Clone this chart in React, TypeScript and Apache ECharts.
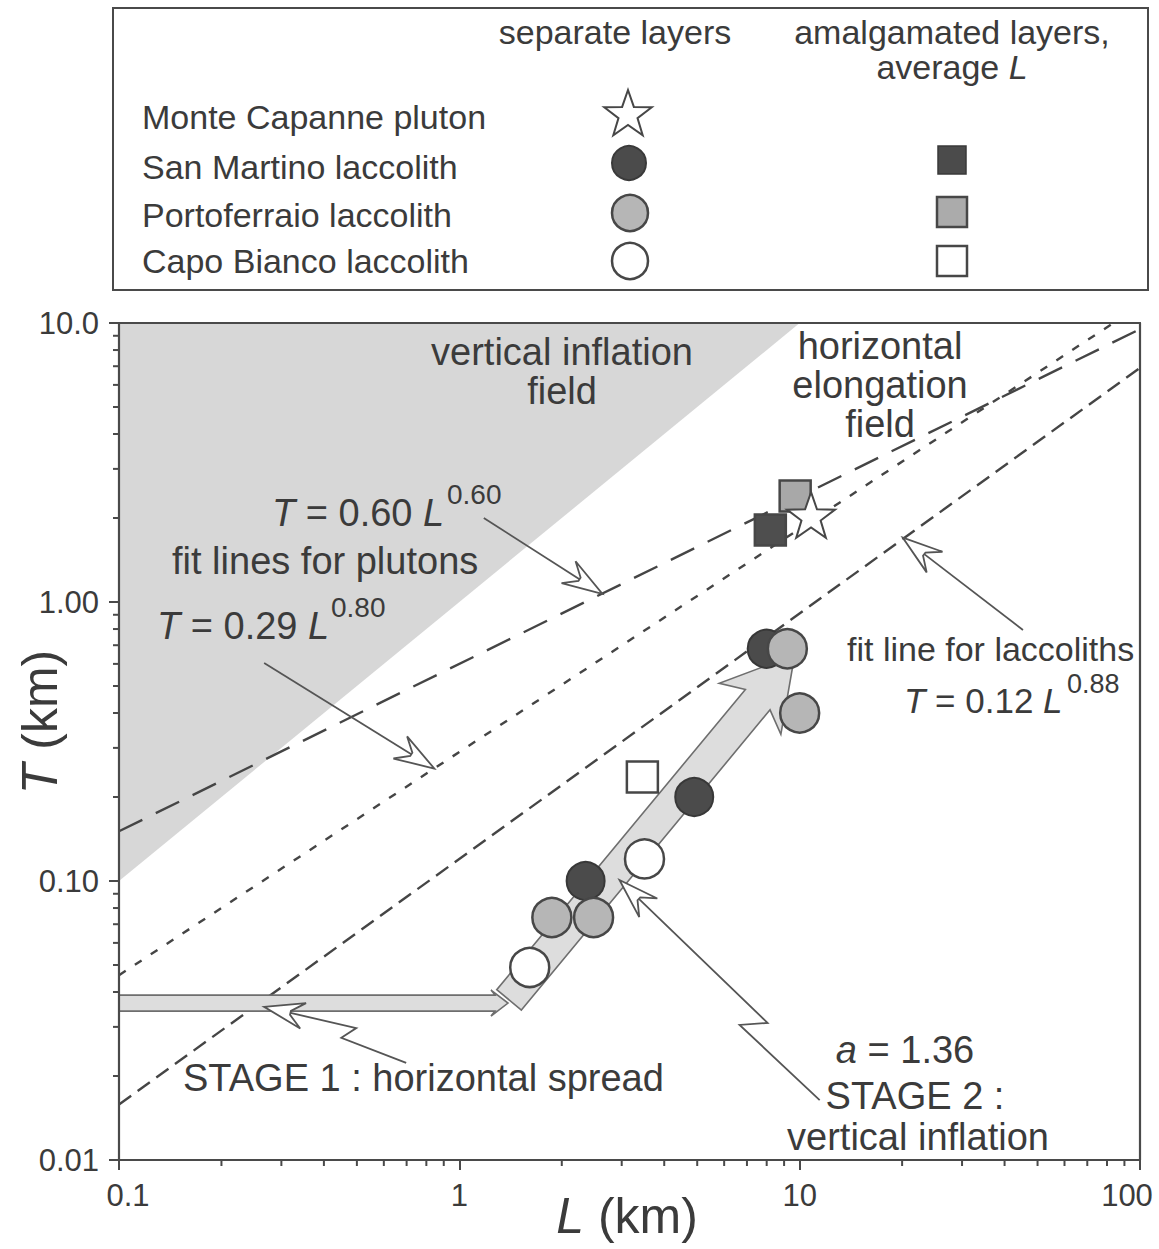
import React, { useEffect, useRef } from "react";
import * as echarts from "echarts";

// ---- measurements: L = layer length (km), T = thickness (km) ----
const sanMartinoL = [2.35, 4.9, 8.0];
const sanMartinoT = [0.1, 0.2, 0.68];
const portoferraioL = [1.87, 2.48, 9.2, 10.0];
const portoferraioT = [0.074, 0.074, 0.68, 0.4];
const capoBiancoL = [1.61, 3.5];
const capoBiancoT = [0.049, 0.12];
const monteCapanneL = [10.8];
const monteCapanneT = [2.05];

// amalgamated layers (average L): San Martino, Portoferraio, Capo Bianco
const amalgamatedL = [8.2, 9.7, 3.45];
const amalgamatedT = [1.81, 2.4, 0.236];

// fit lines T = c * L^e : plutons (two) and laccoliths
const fitCoef = [0.6, 0.29, 0.12];
const fitExp = [0.6, 0.8, 0.88];
const fitRangeL = [0.1, 100];

// vertical inflation field, bounded by T = L
const inflationField = [
  [0.1, 0.1],
  [0.1, 10],
  [10, 10],
];

// growth paths (broad arrows)
const stage1Path = [
  [0.1, 0.0365],
  [1.39, 0.0365],
];
const stage2Path = [
  [1.4, 0.0375],
  [9.67, 0.646],
];

// thin pointer arrows, last point is the tip
const pointerPluton060 = [
  [1.18, 2.0],
  [2.63, 1.07],
];
const pointerPluton080 = [
  [0.267, 0.604],
  [0.844, 0.253],
];
const pointerLaccolith = [
  [45.3, 0.794],
  [20.1, 1.7],
];
const pointerStage1 = [
  [0.698, 0.0223],
  [0.45, 0.0274],
  [0.498, 0.0297],
  [0.267, 0.0354],
];
const pointerStage2 = [
  [11.45, 0.0164],
  [6.66, 0.0305],
  [8.05, 0.031],
  [2.955, 0.1008],
];

// axes
const xMajor = [0.1, 1, 10, 100];
const xTickLabels = ["0.1", "1", "10", "100"];
const yMajor = [0.01, 0.1, 1, 10];
const yTickLabels = ["0.01", "0.10", "1.00", "10.0"];
const xMinor = [0.2, 0.3, 0.4, 0.5, 0.6, 0.7, 0.8, 0.9, 2, 3, 4, 5, 6, 7, 8, 9, 20, 30, 40, 50, 60, 70, 80, 90];
const yMinor = [0.02, 0.03, 0.04, 0.05, 0.06, 0.07, 0.08, 0.09, 0.2, 0.3, 0.4, 0.5, 0.6, 0.7, 0.8, 0.9, 2, 3, 4, 5, 6, 7, 8, 9];

const legendNames = [
  "Monte Capanne pluton",
  "San Martino laccolith",
  "Portoferraio laccolith",
  "Capo Bianco laccolith",
];

const FONT = "Arial, Liberation Sans, Helvetica, sans-serif";
const INK = "#3b3b3b";
const DARK = "#4b4b4b";
const GREY = "#b6b6b6";
const EDGE = "#474747";

function starPoints(cx: number, cy: number, R: number, r: number) {
  const pts: number[][] = [];
  for (let k = 0; k < 10; k++) {
    const a = -Math.PI / 2 + (k * Math.PI) / 5;
    const rad = k % 2 === 0 ? R : r;
    pts.push([cx + rad * Math.cos(a), cy + rad * Math.sin(a)]);
  }
  return pts;
}

const starSymbol =
  "path://" +
  starPoints(0, 0, 50, 20)
    .map((p, i) => (i ? "L" : "M") + p[0].toFixed(2) + " " + p[1].toFixed(2))
    .join(" ") +
  " Z";

function labelIndex(v: number, majors: number[]) {
  return majors.findIndex((m) => Math.abs(m - v) / m < 1e-6);
}

// open, notched arrow head drawn at tip, pointing away from `from`
function openHead(tip: number[], from: number[], len: number, half: number, notch: number, notchHalf: number) {
  const dx = tip[0] - from[0];
  const dy = tip[1] - from[1];
  const d = Math.hypot(dx, dy) || 1;
  const ux = dx / d, uy = dy / d;
  const nx = -uy, ny = ux;
  const at = (a: number, s: number) => [tip[0] - ux * a + nx * s, tip[1] - uy * a + ny * s];
  return {
    head: [tip, at(len, half), at(notch, notchHalf), at(notch, -notchHalf), at(len, -half)],
    base: at(notch, 0),
  };
}

// broad arrow outline between two pixel points
function bandArrow(a: number[], b: number[], w: number, headLen: number, headHalf: number, barbBack: number) {
  const dx = b[0] - a[0];
  const dy = b[1] - a[1];
  const d = Math.hypot(dx, dy) || 1;
  const ux = dx / d, uy = dy / d;
  const nx = -uy, ny = ux;
  const P = (base: number[], along: number, side: number) => [
    base[0] + ux * along + nx * side,
    base[1] + uy * along + ny * side,
  ];
  return [
    P(a, 0, w),
    P(b, -headLen, w),
    P(b, -barbBack, headHalf),
    b,
    P(b, -barbBack, -headHalf),
    P(b, -headLen, -w),
    P(a, 0, -w),
  ];
}

const pairs = (xs: number[], ys: number[]) => xs.map((x, i) => [x, ys[i]]);

function text(t: string, x: number, y: number, opt: any = {}) {
  return {
    type: "text",
    x,
    y,
    z: 100,
    rotation: opt.rotation || 0,
    style: {
      text: t,
      fontSize: opt.size || 38,
      fontFamily: FONT,
      fontStyle: opt.italic ? "italic" : "normal",
      fill: INK,
      align: opt.align || "center",
      verticalAlign: "middle",
      rich: opt.rich,
    },
  };
}

function richFor(size: number) {
  return {
    i: { fontSize: size, fontFamily: FONT, fontStyle: "italic", fill: INK },
    n: { fontSize: size, fontFamily: FONT, fill: INK },
  };
}

const tickRich = {
  first: { fontSize: 31, fontFamily: FONT, color: INK, padding: [0, 0, 0, 18] },
  last: { fontSize: 31, fontFamily: FONT, color: INK, padding: [0, 26, 0, 0] },
};

export default function App() {
  const ref = useRef<HTMLDivElement>(null);

  useEffect(() => {
    document.body.style.margin = "0";
    const chart = echarts.init(ref.current as HTMLDivElement, null, { renderer: "svg" });

    const fitLines = fitCoef.map((c, k) =>
      fitRangeL.map((L) => [L, c * Math.pow(L, fitExp[k])])
    );
    const dashes = [
      [26, 15],
      [8, 11],
      [15, 8],
    ];

    const pointerPaths = [pointerPluton060, pointerPluton080, pointerLaccolith, pointerStage1, pointerStage2];
    const bandPaths = [stage1Path, stage2Path];
    const bandDims = [
      [8, 13, 13, 17],
      [16, 58, 40, 70],
    ];

    const axisLineStyle = { color: "#4a4a4a", width: 2.2 };
    const LG = 34;

    const legendRows = [117, 167, 215, 261];
    const legendGraphics: any[] = [
      {
        type: "rect",
        z: 100,
        shape: { x: 113, y: 8, width: 1035, height: 282 },
        style: { fill: "none", stroke: "#4a4a4a", lineWidth: 2 },
      },
      text("separate layers", 615, 32, { size: LG }),
      text("amalgamated layers,", 952, 32, { size: LG }),
      text("{n|average }{i|L}", 952, 67, { size: LG, rich: richFor(LG) }),
      ...legendNames.map((nm, i) => text(nm, 142, legendRows[i], { size: LG, align: "left" })),
      {
        type: "polygon",
        z: 100,
        shape: { points: starPoints(628, 115, 25, 10) },
        style: { fill: "#fff", stroke: EDGE, lineWidth: 2 },
      },
      { type: "circle", z: 100, shape: { cx: 629, cy: 163, r: 17 }, style: { fill: DARK, stroke: "#3a3a3a", lineWidth: 2 } },
      { type: "circle", z: 100, shape: { cx: 630, cy: 213, r: 18 }, style: { fill: GREY, stroke: EDGE, lineWidth: 2.5 } },
      { type: "circle", z: 100, shape: { cx: 630, cy: 261, r: 18 }, style: { fill: "#fff", stroke: EDGE, lineWidth: 2.5 } },
      { type: "rect", z: 100, shape: { x: 938, y: 146, width: 28, height: 28 }, style: { fill: DARK, stroke: "#3a3a3a", lineWidth: 1.5 } },
      { type: "rect", z: 100, shape: { x: 937, y: 197, width: 30, height: 30 }, style: { fill: "#ababab", stroke: EDGE, lineWidth: 2.5 } },
      { type: "rect", z: 100, shape: { x: 937, y: 246, width: 30, height: 30 }, style: { fill: "#fff", stroke: EDGE, lineWidth: 2.5 } },
    ];

    const plotTexts: any[] = [
      text("vertical inflation", 562, 352),
      text("field", 562, 391),
      text("horizontal", 880, 346),
      text("elongation", 880, 385),
      text("field", 880, 424),
      text("{i|T} = 0.60 {i|L}", 272, 513, { align: "left", size: 38, rich: richFor(38) }),
      text("0.60", 447, 494, { align: "left", size: 28 }),
      text("fit lines for plutons", 172, 561, { align: "left" }),
      text("{i|T} = 0.29 {i|L}", 157, 626, { align: "left", size: 38, rich: richFor(38) }),
      text("0.80", 331, 607, { align: "left", size: 28 }),
      text("fit line for laccoliths", 847, 649, { align: "left", size: 34 }),
      text("{i|T} = 0.12 {i|L}", 904, 700, { align: "left", size: 35, rich: richFor(35) }),
      text("0.88", 1067, 684, { align: "left", size: 27 }),
      text("STAGE 1 : horizontal spread", 183, 1078, { align: "left" }),
      text("{i|a} = 1.36", 905, 1050, { size: 38, rich: richFor(38) }),
      text("STAGE 2 :", 915, 1096),
      text("vertical inflation", 918, 1137),
      text("{i|T} (km)", 40, 722, { size: 50, rotation: Math.PI / 2, rich: richFor(50) }),
      text("{i|L} (km)", 627, 1216, { size: 50, rich: richFor(50) }),
    ];

    const option: any = {
      animation: false,
      backgroundColor: "#ffffff",
      grid: { left: 119, right: 19, top: 323, bottom: 89, show: false, containLabel: false, outerBoundsMode: "none" },
      xAxis: [
        {
          type: "log",
          logBase: 10,
          min: 0.1,
          max: 100,
          z: 6,
          axisLine: { show: true, onZero: false, lineStyle: axisLineStyle },
          axisTick: { show: true, inside: false, length: 10, lineStyle: { color: "#4a4a4a", width: 2 } },
          axisLabel: {
            margin: 20,
            fontSize: 31,
            fontFamily: FONT,
            color: INK,
            rich: tickRich,
            formatter: (v: number) => {
              const i = labelIndex(v, xMajor);
              if (i < 0) return "";
              if (i === 0) return "{first|" + xTickLabels[i] + "}";
              if (i === xMajor.length - 1) return "{last|" + xTickLabels[i] + "}";
              return xTickLabels[i];
            },
          },
          splitLine: { show: false },
        },
        {
          type: "log",
          logBase: 10,
          min: 0.1,
          max: 100,
          position: "top",
          z: 6,
          axisLine: { show: true, onZero: false, lineStyle: axisLineStyle },
          axisTick: { show: false },
          axisLabel: { show: false },
          splitLine: { show: false },
        },
      ],
      yAxis: [
        {
          type: "log",
          logBase: 10,
          min: 0.01,
          max: 10,
          z: 6,
          axisLine: { show: true, onZero: false, lineStyle: axisLineStyle },
          axisTick: { show: true, inside: false, length: 10, lineStyle: { color: "#4a4a4a", width: 2 } },
          axisLabel: {
            margin: 20,
            fontSize: 31,
            fontFamily: FONT,
            color: INK,
            formatter: (v: number) => {
              const i = labelIndex(v, yMajor);
              return i >= 0 ? yTickLabels[i] : "";
            },
          },
          splitLine: { show: false },
        },
        {
          type: "log",
          logBase: 10,
          min: 0.01,
          max: 10,
          position: "right",
          z: 6,
          axisLine: { show: true, onZero: false, lineStyle: axisLineStyle },
          axisTick: { show: false },
          axisLabel: { show: false },
          splitLine: { show: false },
        },
      ],
      graphic: { elements: [...legendGraphics, ...plotTexts] },
      series: [
        {
          type: "custom",
          name: "vertical inflation field",
          z: 1,
          silent: true,
          data: [inflationField[0]],
          renderItem: (_p: any, api: any) => ({
            type: "polygon",
            shape: { points: inflationField.map((pt) => api.coord(pt)) },
            style: { fill: "#d7d7d7" },
          }),
        },
        ...fitLines.map((pts, k) => ({
          type: "line",
          z: 2,
          silent: true,
          symbol: "none",
          data: pts,
          lineStyle: { color: "#454545", width: 2.4, type: dashes[k] },
        })),
        {
          type: "custom",
          name: "growth stages",
          z: 3,
          silent: true,
          data: bandPaths.map((p) => p[1]),
          renderItem: (params: any, api: any) => {
            const path = bandPaths[params.dataIndex];
            const a = api.coord(path[0]);
            const b = api.coord(path[1]);
            const d = bandDims[params.dataIndex];
            return {
              type: "polygon",
              shape: { points: bandArrow(a, b, d[0], d[1], d[2], d[3]) },
              style: { fill: "#dddddd", stroke: "#6e6e6e", lineWidth: 1.6 },
            };
          },
        },
        {
          type: "custom",
          name: "minor ticks x",
          z: 6,
          silent: true,
          data: xMinor.map((v) => [v, 0.01]),
          renderItem: (_p: any, api: any) => {
            const p = api.coord([api.value(0), api.value(1)]);
            return {
              type: "line",
              shape: { x1: p[0], y1: p[1], x2: p[0], y2: p[1] + 6 },
              style: { stroke: "#4a4a4a", lineWidth: 2 },
            };
          },
        },
        {
          type: "custom",
          name: "minor ticks y",
          z: 6,
          silent: true,
          data: yMinor.map((v) => [0.1, v]),
          renderItem: (_p: any, api: any) => {
            const p = api.coord([api.value(0), api.value(1)]);
            return {
              type: "line",
              shape: { x1: p[0], y1: p[1], x2: p[0] - 6, y2: p[1] },
              style: { stroke: "#4a4a4a", lineWidth: 2 },
            };
          },
        },
        {
          type: "custom",
          name: "pointers",
          z: 4,
          silent: true,
          data: pointerPaths.map((p) => p[p.length - 1]),
          renderItem: (params: any, api: any) => {
            const path = pointerPaths[params.dataIndex].map((pt) => api.coord(pt));
            const tip = path[path.length - 1];
            const prev = path[path.length - 2];
            const h = openHead(tip, prev, 40, 13, 27, 2);
            const shaft = path.slice(0, -1).concat([h.base]);
            return {
              type: "group",
              children: [
                {
                  type: "polyline",
                  shape: { points: shaft },
                  style: { stroke: "#555555", lineWidth: 1.8, fill: "none" },
                },
                {
                  type: "polygon",
                  shape: { points: h.head },
                  style: { fill: "#ffffff", stroke: "#555555", lineWidth: 1.8 },
                },
              ],
            };
          },
        },
        {
          type: "scatter",
          name: "San Martino laccolith",
          z: 5,
          symbol: "circle",
          symbolSize: 38,
          data: pairs(sanMartinoL, sanMartinoT),
          itemStyle: { color: DARK, borderColor: "#383838", borderWidth: 2, opacity: 1 },
        },
        {
          type: "scatter",
          name: "Portoferraio laccolith",
          z: 5,
          symbol: "circle",
          symbolSize: 39,
          data: pairs(portoferraioL, portoferraioT),
          itemStyle: { color: GREY, borderColor: EDGE, borderWidth: 2.5, opacity: 1 },
        },
        {
          type: "scatter",
          name: "Capo Bianco laccolith",
          z: 5,
          symbol: "circle",
          symbolSize: 39,
          data: pairs(capoBiancoL, capoBiancoT),
          itemStyle: { color: "#ffffff", borderColor: EDGE, borderWidth: 2.5, opacity: 1 },
        },
        {
          type: "scatter",
          name: "amalgamated",
          z: 5,
          symbol: "rect",
          symbolSize: 31,
          data: pairs(amalgamatedL, amalgamatedT).map((pt, i) => ({
            value: pt,
            itemStyle: {
              color: ["#4e4e4e", "#a8a8a8", "#ffffff"][i],
              borderColor: EDGE,
              borderWidth: 2.5,
              opacity: 1,
            },
          })),
        },
        {
          type: "scatter",
          name: "Monte Capanne pluton",
          z: 5,
          symbol: starSymbol,
          symbolKeepAspect: true,
          symbolSize: 48,
          data: pairs(monteCapanneL, monteCapanneT),
          itemStyle: { color: "#ffffff", borderColor: EDGE, borderWidth: 2, opacity: 1 },
        },
      ],
    };

    chart.setOption(option);
    return () => chart.dispose();
  }, []);

  return <div ref={ref} style={{ width: 1159, height: 1249 }} />;
}
